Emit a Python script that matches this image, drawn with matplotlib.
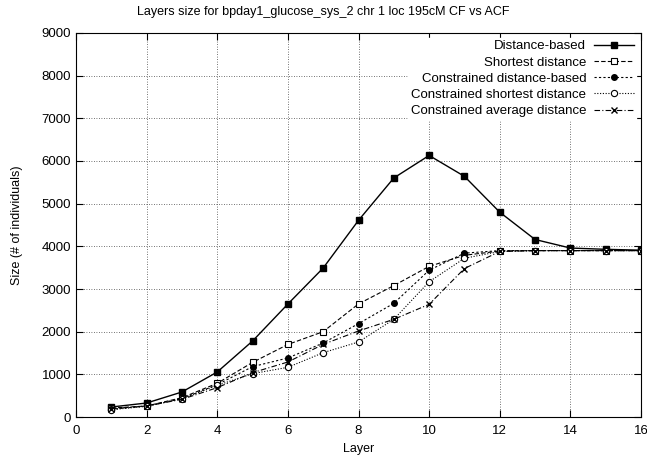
import numpy as np
import matplotlib
matplotlib.use('Agg')
import matplotlib.pyplot as plt

plt.rcParams['font.family'] = ['Liberation Sans', 'DejaVu Sans']

# Data
layers = list(range(1, 17))
distance_based = [234, 328, 586, 1055, 1781, 2648, 3492, 4609, 5602, 6130, 5640, 4800, 4160, 3960, 3930, 3910]
shortest = [210, 258, 453, 790, 1280, 1700, 2000, 2650, 3080, 3530, 3790, 3890, 3900, 3900, 3900, 3900]
constr_dist = [180, 258, 430, 758, 1180, 1383, 1734, 2188, 2664, 3440, 3840, 3900, 3900, 3900, 3900, 3900]
constr_short = [172, 250, 430, 742, 1016, 1164, 1508, 1758, 2289, 3170, 3720, 3880, 3900, 3900, 3900, 3900]
constr_avg = [195, 258, 414, 688, 1039, 1289, 1703, 2016, 2289, 2641, 3480, 3880, 3900, 3900, 3900, 3900]

fig = plt.figure(figsize=(6.47, 4.59), dpi=100)
ax = fig.add_axes([76/647, 1-417/459, (641-76)/647, (417-33)/459])

ax.plot(layers, distance_based, color='black', lw=1.0, ls='-', marker='s', ms=4.5,
        mfc='black', label='Distance-based')
ax.plot(layers, shortest, color='black', lw=0.8, ls=(0, (4, 2)), marker='s', ms=4.5,
        mfc='white', mew=0.8, label='Shortest distance')
ax.plot(layers, constr_dist, color='black', lw=0.8, ls=(0, (2, 2)), marker='o', ms=4,
        mfc='black', label='Constrained distance-based')
ax.plot(layers, constr_short, color='black', lw=0.8, ls=(0, (1, 1.5)), marker='o', ms=4.5,
        mfc='white', mew=0.8, label='Constrained shortest distance')
ax.plot(layers, constr_avg, color='black', lw=0.8, ls=(0, (5, 2, 1, 2)), marker='x', ms=4.5,
        label='Constrained average distance')

ax.set_xlim(0, 16)
ax.set_ylim(0, 9000)
ax.set_xticks(np.arange(0, 17, 2))
ax.set_yticks(np.arange(0, 9001, 1000))
ax.grid(True, color='#444444', ls=(0, (1, 2)), lw=0.6)
ax.tick_params(direction='in', top=True, right=True, labelsize=9.5, length=5)
ax.tick_params(axis='x', pad=6)
ax.set_xlabel('Layer', fontsize=9)
ax.set_ylabel('Size (# of individuals)', fontsize=9)
ax.xaxis.set_label_coords(0.5, -0.068)
ax.yaxis.set_label_coords(-0.093, 0.5)
fig.text(0.5, 1 - 12/459, 'Layers size for bpday1_glucose_sys_2 chr 1 loc 195cM CF vs ACF',
         fontsize=9, ha='center', va='center')

leg = ax.legend(loc='upper right', markerfirst=False, fontsize=9.5, fancybox=False,
                framealpha=1, edgecolor='white', borderaxespad=0.35, handlelength=3,
                labelspacing=0.3, borderpad=0.2, handletextpad=0.6)
for t in leg.get_texts():
    t.set_ha('right')
leg._legend_box.align = 'right'

fig.savefig('out.png', dpi=100)
